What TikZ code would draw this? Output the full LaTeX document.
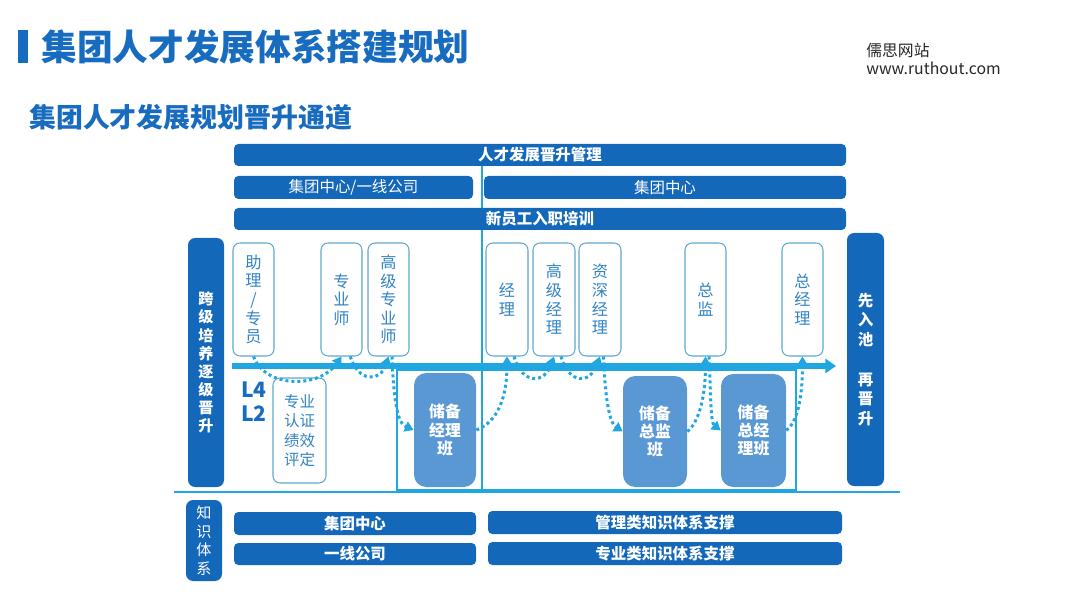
\documentclass[tikz,border=0pt]{standalone}
\usepackage{fontspec}
\setmainfont{Noto Sans CJK SC}
\usepackage{xcolor}
\usetikzlibrary{positioning,arrows.meta}
\definecolor{deepblue}{RGB}{20,104,186}
\definecolor{lineblue}{RGB}{32,166,224}
\definecolor{midblue}{RGB}{90,152,212}
\definecolor{titleblue}{RGB}{24,108,192}
\definecolor{edgeblue}{RGB}{95,168,205}
\definecolor{txtblue}{RGB}{50,132,196}

\begin{document}
\begin{tikzpicture}[x=0.02cm, y=-0.02cm,
    cell/.style 2 args={minimum width=#1*0.02cm, minimum height=#2*0.02cm},
    bar/.style={fill=deepblue, rounded corners=2.5pt, inner sep=0pt, text=white, font=\fontsize{8.8}{10}\selectfont},
    boldbar/.style={bar, font=\fontsize{8.8}{10}\selectfont\bfseries},
    sidebox/.style={fill=deepblue, rounded corners=4pt, inner sep=0pt, text=white, align=center, font=\fontsize{8.6}{10.3}\selectfont\bfseries},
    postbox/.style={draw=edgeblue, line width=0.6pt, fill=white, rounded corners=4pt, inner sep=0pt, text=txtblue, align=center, font=\fontsize{9.2}{10.6}\selectfont},
    classbox/.style={fill=midblue, rounded corners=7pt, inner sep=0pt, text=white, align=center, font=\fontsize{9}{10.3}\selectfont\bfseries},
    hop/.style={draw=lineblue, line width=1.7pt, dash pattern=on 1.7pt off 1.7pt, -{Triangle[length=5pt,width=6pt]}},
]
\useasboundingbox (0,0) rectangle (1080,608);
% title
\fill[titleblue] (18,30) rectangle (28,63);
\node[anchor=west, text=titleblue, inner sep=0pt, font=\fontsize{20.3}{24}\selectfont\bfseries] (title) at (41,47) {集团人才发展体系搭建规划};
\node[anchor=west, text=titleblue, inner sep=0pt, font=\fontsize{15.3}{18}\selectfont\bfseries] (subtitle) at (29,117) {集团人才发展规划晋升通道};
\node[anchor=north west, inner sep=0pt, align=left, text=black!85, font=\fontsize{9}{10.4}\selectfont] (site) at (866,43) {儒思网站\\www.ruthout.com};

% divider lines
\coordinate (divtop) at (482,166);
\coordinate (divbot) at (482,492);
\draw[lineblue, line width=1pt] (divtop) -- (divbot);
\coordinate (sepl) at (174,492);
\coordinate (sepr) at (900,492);
\draw[lineblue, line width=1.6pt] (sepl) -- (sepr);

% header bars
\node[boldbar, cell={612}{22}] (mgmt) at (540,155) {人才发展晋升管理};
\node[bar, cell={239}{23}] (grpline) at (353.5,187.5) {集团中心/一线公司};
\node[bar, cell={362}{23}] (grp) at (665,187.5) {集团中心};
\node[boldbar, cell={612}{22}] (newhire) at (540,219) {新员工入职培训};

% side boxes
\node[sidebox, cell={36}{249}] (cross) at (206,362.5) {跨\\级\\培\\养\\逐\\级\\晋\\升};
\node[sidebox, cell={37}{253}, font=\fontsize{8.8}{11}\selectfont\bfseries] (pool) at (865.5,359.5) {先\\入\\池\\[12pt]再\\晋\\升};

% positions
\node[postbox, cell={41}{113}] (zl) at (253.5,299.5) {助\\理\\/\\专\\员};
\node[postbox, cell={41}{113}] (zys) at (341.5,299.5) {专\\业\\师};
\node[postbox, cell={41}{113}] (gzys) at (388.5,299.5) {高\\级\\专\\业\\师};
\node[postbox, cell={42}{113}] (jl) at (507,299.5) {经\\理};
\node[postbox, cell={42}{113}] (gjl) at (554,299.5) {高\\级\\经\\理};
\node[postbox, cell={42}{113}] (zsjl) at (600,299.5) {资\\深\\经\\理};
\node[postbox, cell={41}{113}] (zj) at (705.5,299.5) {总\\监};
\node[postbox, cell={41}{113}] (zjl) at (802.5,299.5) {总\\经\\理};

% reserve frame and classes
\node[draw=lineblue, line width=0.8pt, inner sep=0pt, cell={399}{120}] (resv) at (596.5,430) {};
\node[postbox, cell={53}{105}, font=\fontsize{8.8}{11}\selectfont] (cert) at (299.5,430.5) {专业\\认证\\绩效\\评定};
\node[classbox, cell={62}{114}] (rjl) at (445,430) {储备\\经理\\班};
\node[classbox, cell={64}{111}] (rzj) at (655,431.5) {储备\\总监\\班};
\node[classbox, cell={65}{113}] (rzjl) at (753.5,430.5) {储备\\总经\\理班};
\node[text=titleblue, align=center, inner sep=0pt, font=\fontsize{12}{13.7}\selectfont\bfseries] (lv) at (254,402) {L4\\L2};

% main arrow
\coordinate (axl) at (232,366);
\coordinate (axr) at (836,366);
\draw[lineblue, line width=3.4pt, -{Triangle[length=6pt,width=8pt]}] (axl) -- (axr);

% dotted hops
\draw[hop] (zl.south) .. controls +(12,32) and +(-22,32) .. (zys.south);
\draw[hop] ([xshift=5pt]zys.south) .. controls +(8,26) and +(-8,26) .. (gzys.south);
\draw[hop] ([xshift=2pt]gzys.south) .. controls +(2,55) and +(-14,-6) .. (rjl.west);
\draw[hop] (rjl.east) .. controls +(16,-6) and +(0,50) .. (jl.south);
\draw[hop] ([xshift=4pt]jl.south) .. controls +(8,28) and +(-10,28) .. (gjl.south);
\draw[hop] ([xshift=4pt]gjl.south) .. controls +(8,28) and +(-10,28) .. (zsjl.south);
\draw[hop] ([xshift=2pt]zsjl.south) .. controls +(2,50) and +(-12,-8) .. (rzj.west);
\draw[hop] (rzj.east) .. controls +(10,-8) and +(0,45) .. (zj.south);
\draw[hop] ([xshift=2pt]zj.south) .. controls +(2,45) and +(-10,-8) .. (rzjl.west);
\draw[hop] (rzjl.east) .. controls +(10,-8) and +(0,45) .. (zjl.south);

% knowledge system
\node[sidebox, cell={36}{81}, font=\fontsize{8.6}{10.5}\selectfont] (kn) at (204,540.5) {知\\识\\体\\系};
\node[boldbar, cell={242}{23}] (kgrp) at (355,523.5) {集团中心};
\node[boldbar, cell={242}{22}] (kline) at (355,554) {一线公司};
\node[boldbar, cell={354}{23}] (kmgmt) at (665,522.5) {管理类知识体系支撑};
\node[boldbar, cell={354}{23}] (kpro) at (665,553.5) {专业类知识体系支撑};
\end{tikzpicture}
\end{document}
